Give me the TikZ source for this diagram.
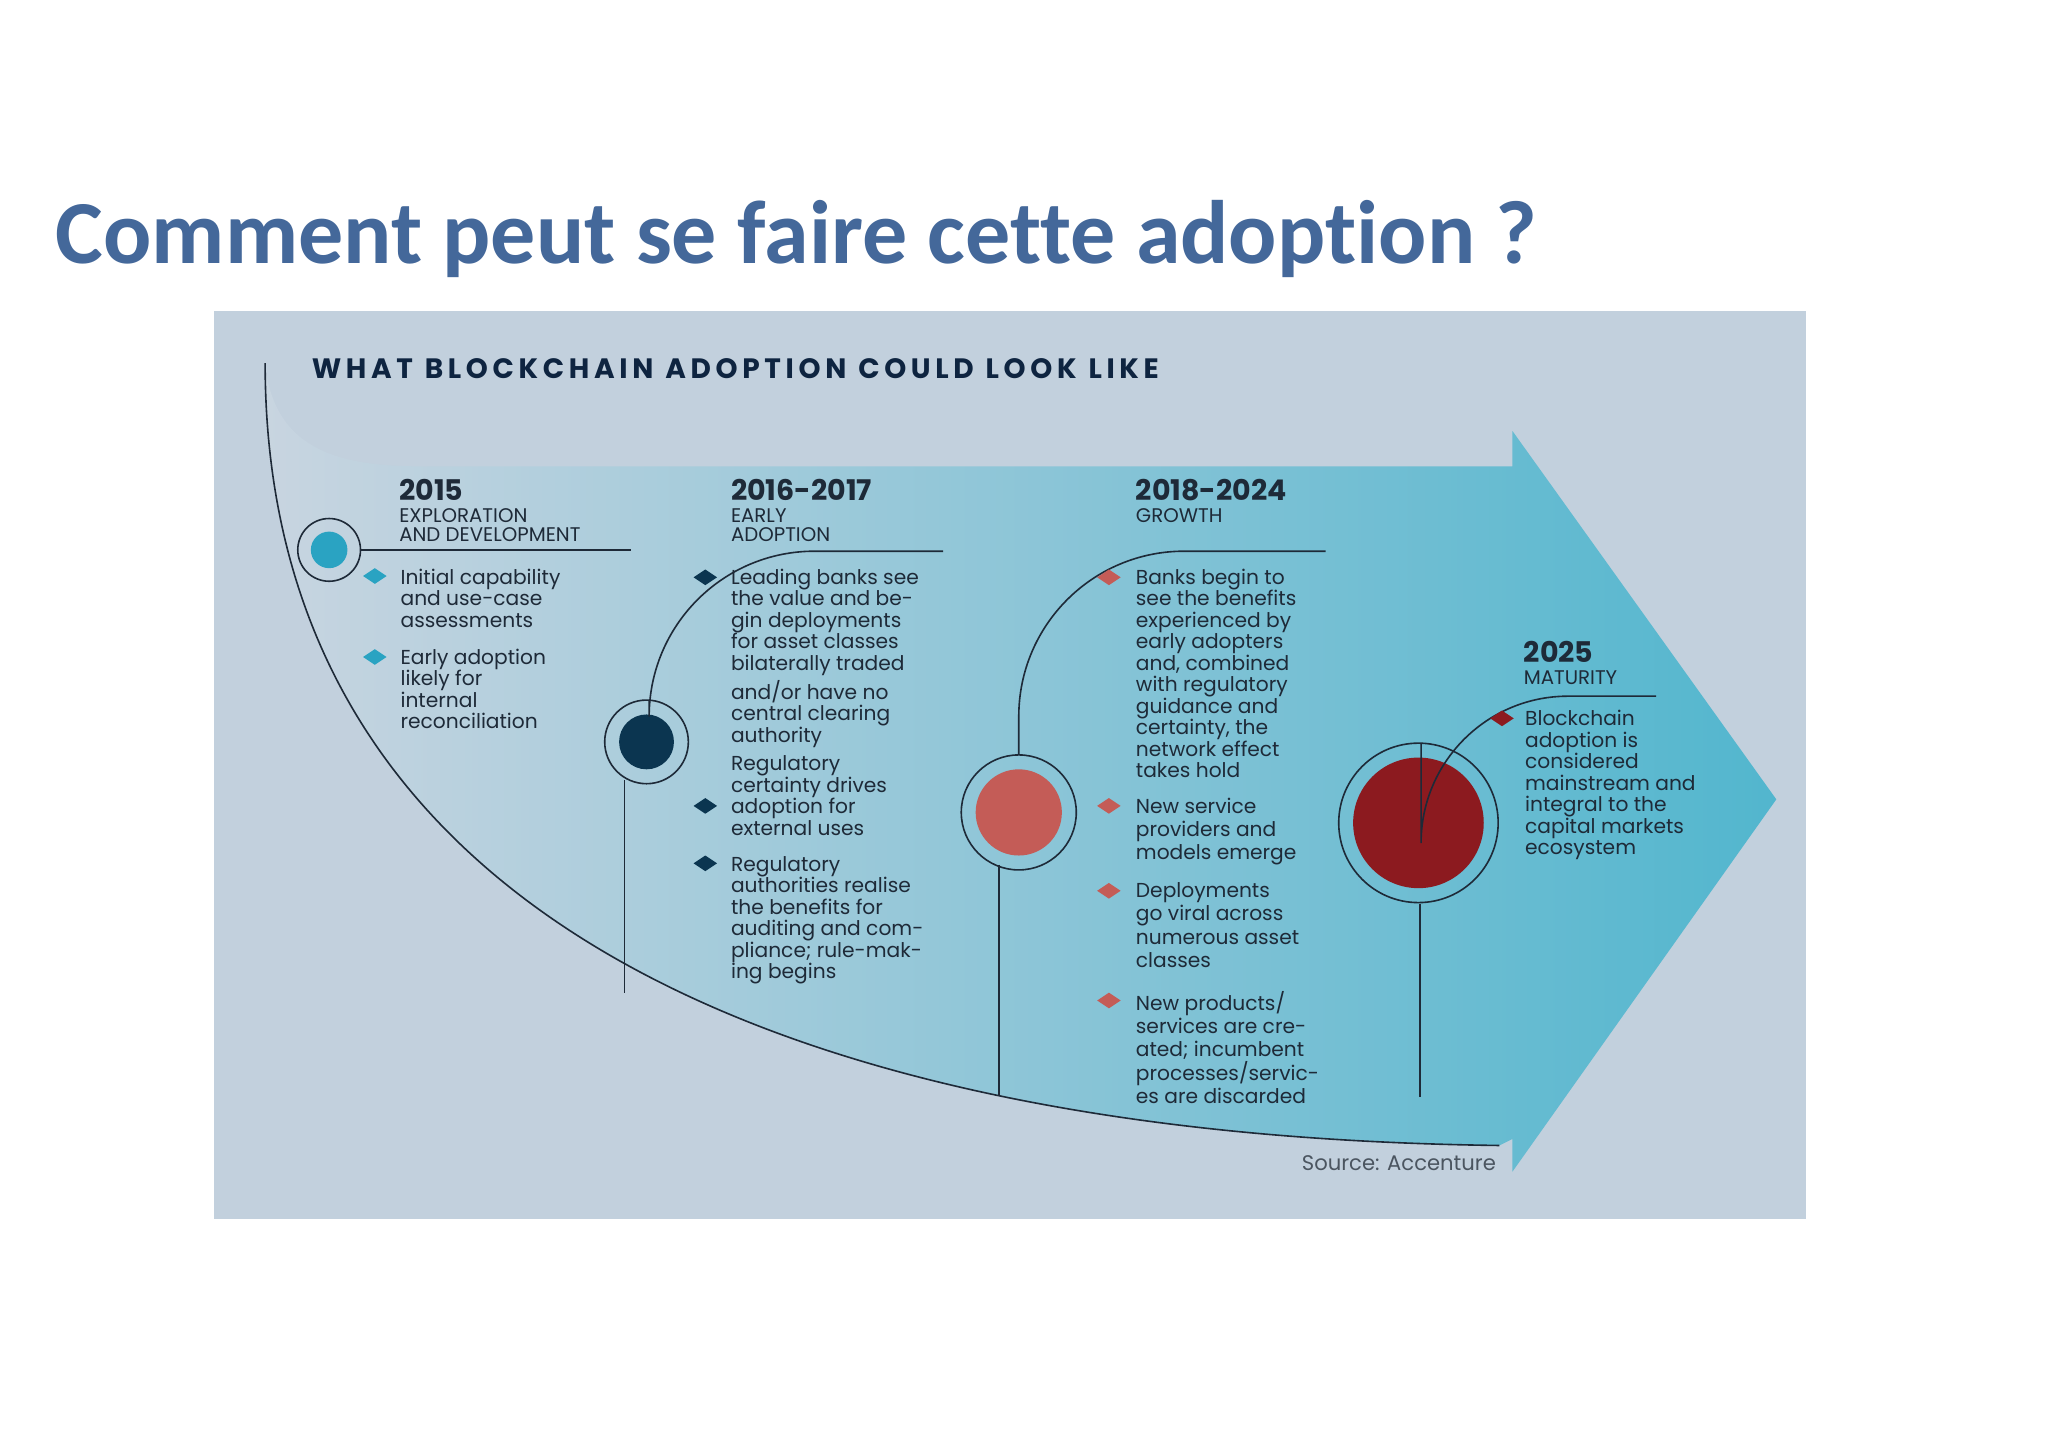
\documentclass[tikz,border=0pt]{standalone}
\usepackage{fontspec}
\setmainfont{Poppins}
\newfontfamily\titlefont[Ligatures=CommonOff]{Carlito}
\definecolor{ttl}{HTML}{44689A}
\definecolor{panel}{HTML}{C2D0DD}
\definecolor{arr}{HTML}{52B6CE}
\definecolor{navy}{HTML}{0E2440}
\definecolor{cyanc}{HTML}{2AA3C2}
\definecolor{darkb}{HTML}{0B3550}
\definecolor{salm}{HTML}{C45C57}
\definecolor{dred}{HTML}{8C1A1F}
\definecolor{txt}{HTML}{1E2A38}
\begin{document}
\begin{tikzpicture}[x=0.01cm,y=-0.01cm,
  body/.style={anchor=north west,inner sep=0pt,align=left,text=txt,font=\fontsize{4.4}{4.68}\selectfont},
  yr/.style={anchor=north west,inner sep=0pt,align=left,text=txt,font=\bfseries\fontsize{6.2}{7}\selectfont},
  sub/.style={anchor=north west,inner sep=0pt,align=left,text=txt,font=\fontsize{4.3}{4.1}\selectfont},
  thin/.style={draw=txt,line width=0.35pt},
  ring/.style={draw=txt,line width=0.35pt}]
\useasboundingbox (0,0) rectangle (1568,1108);
\fill[white] (0,0) rectangle (1568,1108);
\node[anchor=base west,inner sep=0pt,text=ttl,font=\titlefont\bfseries\fontsize{19.6}{24}\selectfont] (title) at (42,202) {Comment peut se faire cette adoption ?};
\fill[panel] (164,238) rectangle (1383,933);
% arrow
\shade[left color=panel!90!white,right color=arr] (203,280) .. controls (210,335) and (245,357) .. (320,357) -- (1158,357) -- (1158,330) -- (1360,612) -- (1158,897) -- (1158,872) -- (1148,877) .. controls (600,870) and (203,700) .. (203,280) -- cycle;
\draw[thin] (203,278) .. controls (203,700) and (600,870) .. (1148,877);
\node[anchor=base west,inner sep=0pt,text=navy,font=\bfseries\fontsize{6.1}{6.5}\selectfont] (head) at (238,290) {W\,H\,A\,T\ \ B\,L\,O\,C\,K\,C\,H\,A\,I\,N\ \ A\,D\,O\,P\,T\,I\,O\,N\ \ C\,O\,U\,L\,D\ \ L\,O\,O\,K\ \ L\,I\,K\,E};
% column 1
\node[ring,circle,inner sep=0pt,minimum size=0.48cm] (r1) at (252,421) {};
\fill[cyanc] (252,421) circle (14);
\coordinate (u1) at (483,421);
\draw[thin] (r1.east) -- (u1);
\node[yr] (y1) at (305,366) {2015};
\node[sub] (s1) at (305,389) {EXPLORATION\\AND DEVELOPMENT};
\fill[cyanc,shift={(287,441)}] (-9,0)--(0,-6)--(9,0)--(0,6)--cycle;
\fill[cyanc,shift={(287,503)}] (-9,0)--(0,-6)--(9,0)--(0,6)--cycle;
\node[body] (t11) at (306,435) {Initial capability\\and use-case\\assessments};
\node[body] (t12) at (306,496) {Early adoption\\likely for\\internal\\reconciliation};
% column 2
\node[ring,circle,inner sep=0pt,minimum size=0.64cm] (r2) at (495,568) {};
\fill[darkb] (495,568) circle (21);
\coordinate (a2) at (497,536); \coordinate (b2) at (722,422);
\draw[thin,rounded corners=36] (a2) -- (497,422) -- (b2);
\coordinate (c2) at (478,597); \coordinate (d2) at (478,760);
\draw[thin] (c2) -- (d2);
\node[yr] (y2) at (559,366) {2016-2017};
\node[sub] (s2) at (559,389) {EARLY\\ADOPTION};
\foreach \yy in {442,617,661} \fill[darkb,shift={(540,\yy)}] (-9,0)--(0,-6)--(9,0)--(0,6)--cycle;
\node[body] (t21) at (559,435) {Leading banks see\\the value and be-\\gin deployments\\for asset classes\\bilaterally traded\\{}and/or have no\\central clearing\\authority};
\node[body] (t22) at (559,578) {Regulatory\\certainty drives\\adoption for\\external uses};
\node[body] (t23) at (559,655) {Regulatory\\authorities realise\\the benefits for\\auditing and com-\\pliance; rule-mak-\\ing begins};
% column 3
\node[ring,circle,inner sep=0pt,minimum size=0.88cm] (r3) at (780,622) {};
\fill[salm] (780,622) circle (33);
\coordinate (a3) at (780,578); \coordinate (b3) at (1015,422);
\draw[thin,rounded corners=36] (a3) -- (780,422) -- (b3);
\coordinate (c3) at (765,662); \coordinate (d3) at (765,838);
\draw[thin] (c3) -- (d3);
\node[yr] (y3) at (869,366) {2018-2024};
\node[sub] (s3) at (869,389) {GROWTH};
\foreach \yy in {442,617,682,766} \fill[salm,shift={(849,\yy)}] (-9,0)--(0,-6)--(9,0)--(0,6)--cycle;
\node[body] (t31) at (869,435) {Banks begin to\\see the benefits\\experienced by\\early adopters\\and, combined\\with regulatory\\guidance and\\certainty, the\\network effect\\takes hold};
\node[body,font=\fontsize{4.4}{5.1}\selectfont] (t32) at (869,610) {New service\\providers and\\models emerge};
\node[body,font=\fontsize{4.4}{5.1}\selectfont] (t33) at (869,675) {Deployments\\go viral across\\numerous asset\\classes};
\node[body,font=\fontsize{4.4}{5.1}\selectfont] (t34) at (869,758) {New products/\\services are cre-\\ated; incumbent\\processes/servic-\\es are discarded};
% column 4
\node[ring,circle,inner sep=0pt,minimum size=1.22cm] (r4) at (1086,630) {};
\fill[dred] (1086,630) circle (50);
\coordinate (a4) at (1088,569); \coordinate (b4) at (1268,533);
\draw[thin,rounded corners=32] (a4) -- (1088,533) -- (b4);
\coordinate (c4) at (1087,692); \coordinate (d4) at (1087,840);
\draw[thin] (c4) -- (d4);
\node[yr] (y4) at (1166,490) {2025};
\node[sub] (s4) at (1166,513) {MATURITY};
\fill[dred,shift={(1150,550)}] (-9,0)--(0,-6)--(9,0)--(0,6)--cycle;
\node[body] (t41) at (1167,543) {Blockchain\\adoption is\\considered\\mainstream and\\integral to the\\capital markets\\ecosystem};
\node[anchor=base east,inner sep=0pt,text=txt!80,font=\fontsize{4.6}{5}\selectfont] (src) at (1146,896) {Source: Accenture};
\end{tikzpicture}
\end{document}
